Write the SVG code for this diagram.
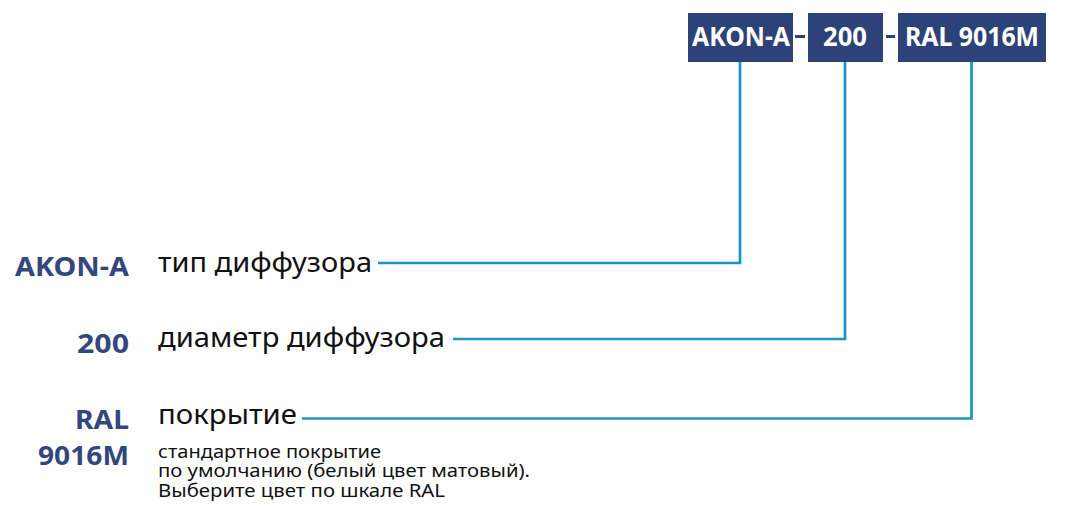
<svg xmlns="http://www.w3.org/2000/svg" width="1068" height="528" viewBox="0 0 1068 528">
<style>
.box{fill:#2d4278}
.bt{font-family:"Noto Sans","Liberation Sans",sans-serif;font-weight:700;font-size:26px;fill:#ffffff;text-anchor:middle}
.lbl{font-family:"Noto Sans","Liberation Sans",sans-serif;font-weight:700;font-size:27px;fill:#34477d;text-anchor:end}
.desc{font-family:"Noto Sans","Liberation Sans",sans-serif;font-weight:400;font-size:27.5px;fill:#111111}
.small{font-family:"Noto Sans","Liberation Sans",sans-serif;font-weight:400;font-size:18.5px;fill:#111111}
.con{fill:none;stroke:#1b96be;stroke-width:2.7}
</style>
<rect width="1068" height="528" fill="#ffffff"/>
<g id="code">
<g id="box-akon"><rect class="box" x="688" y="13" width="105" height="49"/><text class="bt" x="741" y="46" textLength="98" lengthAdjust="spacingAndGlyphs">AKON-A</text></g>
<rect class="box" x="795" y="35" width="10" height="3"/>
<g id="box-200"><rect class="box" x="808" y="13" width="75" height="49"/><text class="bt" x="845" y="46" textLength="44" lengthAdjust="spacingAndGlyphs">200</text></g>
<rect class="box" x="886" y="35" width="9" height="3"/>
<g id="box-ral"><rect class="box" x="898" y="13" width="148" height="49"/><text class="bt" x="972" y="46" textLength="134" lengthAdjust="spacingAndGlyphs">RAL 9016M</text></g>
</g>
<g id="connectors">
<polyline class="con" points="378,263 740,263 740,62"/>
<polyline class="con" points="453,339 845,339 845,62"/>
<polyline class="con" points="302,418.5 971.5,418.5 971.5,62"/>
</g>
<g id="row-type">
<text class="lbl" x="129" y="276" textLength="114" lengthAdjust="spacingAndGlyphs">AKON-A</text>
<text class="desc" x="158" y="272" textLength="214" lengthAdjust="spacingAndGlyphs">тип диффузора</text>
</g>
<g id="row-diam">
<text class="lbl" x="129" y="353" textLength="52" lengthAdjust="spacingAndGlyphs">200</text>
<text class="desc" x="158" y="347" textLength="287" lengthAdjust="spacingAndGlyphs">диаметр диффузора</text>
</g>
<g id="row-coat">
<text class="lbl" x="129" y="429" textLength="54" lengthAdjust="spacingAndGlyphs">RAL</text>
<text class="lbl" x="129" y="465" textLength="91" lengthAdjust="spacingAndGlyphs">9016M</text>
<text class="desc" x="158" y="424" textLength="139" lengthAdjust="spacingAndGlyphs">покрытие</text>
<text class="small" x="158" y="457.5" textLength="223" lengthAdjust="spacingAndGlyphs">стандартное покрытие</text>
<text class="small" x="158" y="477" textLength="372" lengthAdjust="spacingAndGlyphs">по умолчанию (белый цвет матовый).</text>
<text class="small" x="158" y="496.5" textLength="287" lengthAdjust="spacingAndGlyphs">Выберите цвет по шкале RAL</text>
</g>
</svg>
